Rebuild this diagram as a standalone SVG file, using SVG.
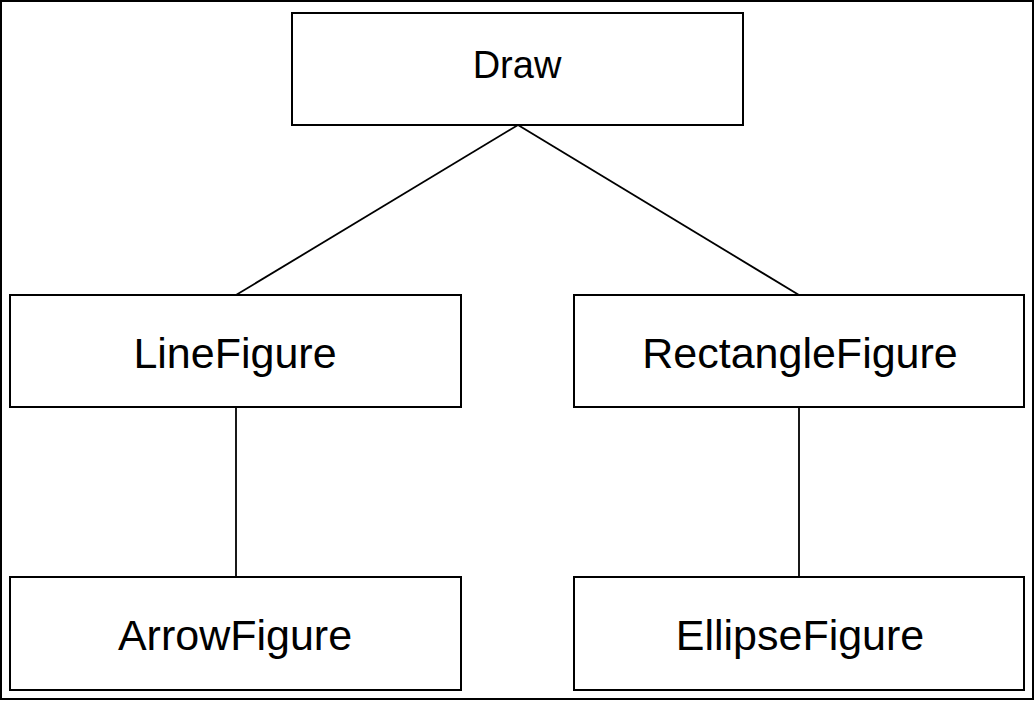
<svg xmlns="http://www.w3.org/2000/svg" width="1035" height="701" viewBox="0 0 1035 701">
<style>
.box{fill:#fff;stroke:#000;stroke-width:2}
.lbl{font-family:"Liberation Sans",Arial,sans-serif;font-size:43px;fill:#000;text-anchor:middle}
.con{stroke:#000;stroke-width:1.8;fill:none}
</style>
<rect x="0" y="0" width="1035" height="701" fill="#fff"/>
<rect x="1" y="1" width="1032" height="698" fill="none" stroke="#000" stroke-width="2"/>
<g id="connectors">
<line class="con" x1="518" y1="125" x2="236" y2="295"/>
<line class="con" x1="518" y1="125" x2="799" y2="295"/>
<line class="con" x1="236" y1="407" x2="236" y2="577"/>
<line class="con" x1="799" y1="407" x2="799" y2="577"/>
</g>
<g id="draw">
<rect class="box" x="292" y="13" width="451" height="112"/>
<text class="lbl" x="517" y="78" style="font-size:38px">Draw</text>
</g>
<g id="lineFigure">
<rect class="box" x="10" y="295" width="451" height="112"/>
<text class="lbl" x="235" y="368">LineFigure</text>
</g>
<g id="rectangleFigure">
<rect class="box" x="574" y="295" width="450" height="112"/>
<text class="lbl" x="800" y="368">RectangleFigure</text>
</g>
<g id="arrowFigure">
<rect class="box" x="10" y="577" width="451" height="113"/>
<text class="lbl" x="235" y="650">ArrowFigure</text>
</g>
<g id="ellipseFigure">
<rect class="box" x="574" y="577" width="450" height="113"/>
<text class="lbl" x="800" y="650">EllipseFigure</text>
</g>
</svg>
